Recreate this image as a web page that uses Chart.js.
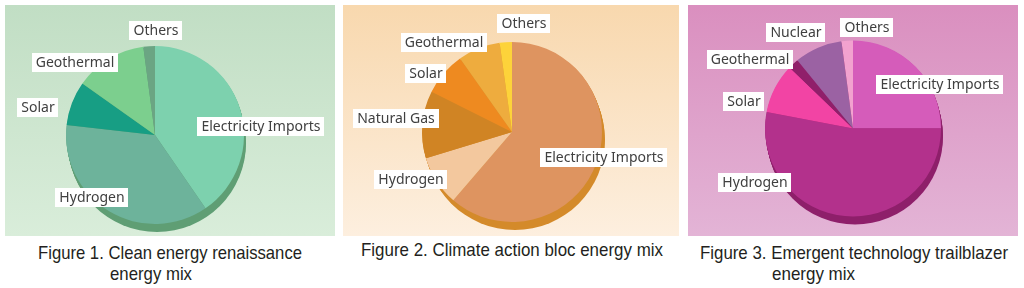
<!DOCTYPE html>
<html>
<head>
<meta charset="utf-8">
<script src="https://cdn.jsdelivr.net/npm/chart.js@4"></script>
<style>
    html, body { margin: 0; padding: 0; background: #ffffff; }
    body { width: 1024px; height: 288px; position: relative; overflow: hidden; }
    .panel { position: absolute; top: 5px; height: 231px; }
    .panel canvas { position: absolute; left: 0; top: 0; }
    #panel1 { left: 5px; width: 330px; background: linear-gradient(#c1dec4, #d9edda); }
    #panel2 { left: 343px; width: 336px; background: linear-gradient(#f8d8ae, #fdefdf); }
    #panel3 { left: 688px; width: 330px; background: linear-gradient(#da8fbf, #e3b4d6); }
    .caption {
        position: absolute; white-space: nowrap; color: #231f20;
        font-family: "Liberation Sans", Arial, sans-serif;
        font-size: 19px; line-height: 20px;
    }
</style>
</head>
<body>
<div class="panel" id="panel1"><canvas id="fig1Chart" width="330" height="231"></canvas></div>
<div class="panel" id="panel2"><canvas id="fig2Chart" width="336" height="231"></canvas></div>
<div class="panel" id="panel3"><canvas id="fig3Chart" width="330" height="231"></canvas></div>

<div class="caption" style="left:38px; top:243px;" data-w="264">Figure 1. Clean energy renaissance</div>
<div class="caption" style="left:110px; top:264px;" data-w="82">energy mix</div>
<div class="caption" style="left:361px; top:240px;" data-w="302">Figure 2. Climate action bloc energy mix</div>
<div class="caption" style="left:700px; top:243px;" data-w="308">Figure 3. Emergent technology trailblazer</div>
<div class="caption" style="left:772px; top:264px;" data-w="83">energy mix</div>

<script>
// Energy mix shares (%), clockwise from 12 o'clock
const fig1Labels = ['Electricity Imports', 'Hydrogen', 'Solar', 'Geothermal', 'Others'];
const fig1Values = [40.4, 36.4, 8.0, 13.1, 2.1];

const fig2Labels = ['Electricity Imports', 'Hydrogen', 'Natural Gas', 'Solar', 'Geothermal', 'Others'];
const fig2Values = [61.3, 9.0, 12.1, 7.8, 7.6, 2.2];

const fig3Labels = ['Electricity Imports', 'Hydrogen', 'Solar', 'Geothermal', 'Nuclear', 'Others'];
const fig3Values = [25.0, 53.0, 9.2, 1.9, 8.8, 2.1];

// Squeeze captions to the narrow width they have in the original
document.querySelectorAll('.caption').forEach(el => {
    const w = el.getBoundingClientRect().width;
    el.style.transformOrigin = 'left top';
    el.style.transform = `scaleX(${el.dataset.w / w})`;
});

// Pie "thickness": the disc is redrawn a few px down/right in a darker tone
const depthPlugin = {
    id: 'depth',
    beforeDatasetsDraw(chart, args, opts) {
        const arc = chart.getDatasetMeta(0).data[0];
        if (!arc) return;
        const ctx = chart.ctx;
        ctx.save();
        ctx.fillStyle = opts.color;
        for (let i = 1; i <= 8; i++) {
            ctx.beginPath();
            ctx.arc(arc.x + i * opts.dx / 8, arc.y + i * opts.dy / 8, arc.outerRadius, 0, Math.PI * 2);
            ctx.fill();
        }
        ctx.restore();
    }
};

// White boxed slice names, placed relative to the pie centre
const boxLabelPlugin = {
    id: 'boxLabels',
    afterDatasetsDraw(chart, args, opts) {
        const arc = chart.getDatasetMeta(0).data[0];
        if (!arc) return;
        const ctx = chart.ctx;
        ctx.save();
        ctx.font = '14px "Noto Sans", "Open Sans", sans-serif';
        ctx.textAlign = 'center';
        ctx.textBaseline = 'middle';
        chart.data.labels.forEach((label, i) => {
            const [ox, oy] = opts.offsets[i];
            const cx = arc.x + ox;
            const cy = arc.y + oy;
            const w = ctx.measureText(label).width + 8;
            ctx.fillStyle = '#ffffff';
            ctx.fillRect(Math.round(cx - w / 2), Math.round(cy - 9.5), Math.round(w), 19);
            ctx.fillStyle = '#404040';
            ctx.fillText(label, cx, cy + 1);
        });
        ctx.restore();
    }
};

function makePie(id, labels, values, colors, padding, depth, offsets) {
    return new Chart(document.getElementById(id), {
        type: 'pie',
        data: {
            labels: labels,
            datasets: [{
                data: values,
                backgroundColor: colors,
                borderWidth: 0,
                hoverOffset: 0
            }]
        },
        options: {
            responsive: false,
            animation: false,
            events: [],
            layout: { padding: padding },
            plugins: {
                legend: { display: false },
                tooltip: { enabled: false },
                depth: depth,
                boxLabels: { offsets: offsets }
            }
        },
        plugins: [depthPlugin, boxLabelPlugin]
    });
}

// Figure 1 - green
makePie('fig1Chart', fig1Labels, fig1Values,
    ['#7dd1ae', '#6db39b', '#179e84', '#7ccf8e', '#6ba583'],
    { left: 61, top: 41, right: 91, bottom: 12 },
    { color: '#5f9e74', dx: 2, dy: 8 },
    [[106, -9], [-63, 62], [-117, -28], [-80, -73], [1, -105]]);

// Figure 2 - orange
makePie('fig2Chart', fig2Labels, fig2Values,
    ['#de9460', '#f3c89e', '#d08424', '#ee8a20', '#eeac3e', '#fdd33a'],
    { left: 79, top: 37, right: 77, bottom: 14 },
    { color: '#d48a2a', dx: 3, dy: 8 },
    [[92, 25], [-101, 47], [-116, -14], [-86, -59], [-68, -90], [12, -109]]);

// Figure 3 - pink
makePie('fig3Chart', fig3Labels, fig3Values,
    ['#d55cba', '#b3318c', '#f244a4', '#901f6a', '#9b62a3', '#f2a2cf'],
    { left: 77, top: 35, right: 77, bottom: 19 },
    { color: '#8e1f6a', dx: 2, dy: 8 },
    [[87, -44], [-98, 54], [-109, -27], [-103, -69], [-57, -96], [14, -101]]);
</script>
</body>
</html>
